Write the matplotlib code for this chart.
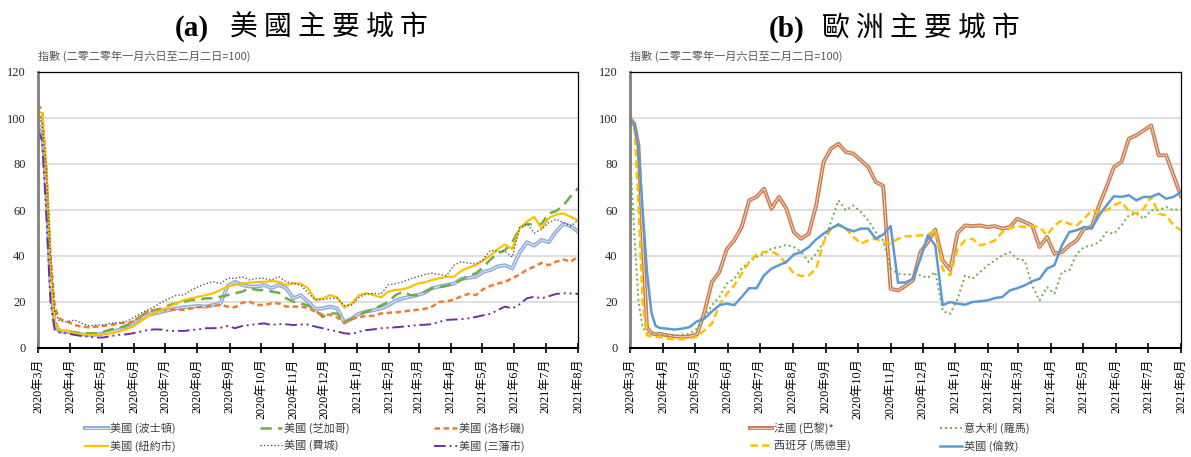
import matplotlib
matplotlib.use("Agg")
import matplotlib.pyplot as plt
import matplotlib.patheffects as pe
import pandas as pd

# day offsets from 2020-03-01 (dense in March, then weekly)
days = [0, 4, 8, 12, 16, 20, 24, 28,
        35, 42, 49, 56, 63, 70, 77, 84, 91, 98, 105, 112, 119, 126, 133, 140, 147,
        154, 161, 168, 175, 182, 189, 196, 203, 210, 217, 224, 231, 238, 245, 252,
        259, 266, 273, 280, 287, 294, 301, 308, 315, 322, 329, 336, 343, 350, 357,
        364, 371, 378, 385, 392, 399, 406, 413, 420, 427, 434, 441, 448, 455, 462,
        469, 476, 483, 490, 497, 504, 511, 518]

# (a) US cities
boston = [97, 95, 68, 28, 10, 7.5, 7, 7.1,
          6.4, 5.9, 5.7, 5.8, 6.4, 7.1, 7.8, 9.3, 10.7, 12.9, 14.3, 15, 15.8, 16.5, 17.2, 17.7, 18,
          18.3, 18, 18.7, 19.4, 27, 28.8, 27.4, 26.7, 26.7, 27.4, 26, 27.4, 26, 21.6, 23,
          20.1, 17, 17.2, 18, 17.2, 11, 12.9, 15, 15.8, 16.5, 17.2, 18.5, 20.5, 21.6, 22.3,
          23, 24, 26, 26.7, 27.4, 28, 30, 30.5, 31, 33, 33.9, 35.5, 36, 34.6, 41.5,
          46, 44.5, 47, 46, 50.6, 54, 53, 50.6]
chicago = [101, 100, 75, 34, 12, 8, 7.5, 7.5,
           6.8, 6.4, 6.4, 6.4, 7.1, 8.1, 8.6, 9.6, 11.4, 13.6, 15.8, 16.5, 17.2, 18.7, 19.4, 20.1, 20.9,
           20.9, 21.6, 21.6, 22.3, 23, 23.8, 24.5, 26, 25.2, 25.2, 24.5, 24, 21.6, 20.1, 19.4,
           18.5, 16.5, 13.5, 15, 15, 11.5, 12.5, 14.5, 15.8, 17, 18.5, 20, 23, 24.5, 23,
           23, 24.5, 26, 26.5, 27, 28, 29.6, 31.5, 32.5, 35, 38.5, 41, 42.6, 46, 52,
           54, 53.5, 54, 58.5, 59.5, 62, 66, 69.4]
los_angeles = [106, 103, 78, 40, 18, 13, 12, 11.5,
               10, 9.3, 9, 9.3, 9.6, 10, 10.7, 11, 11.4, 13.6, 15.8, 16.5, 16.5, 16.5, 16.8, 16.5, 17.2,
               17.7, 18, 18.3, 18.7, 18, 17.7, 19.7, 20.1, 18.7, 18.7, 19.4, 19.4, 18, 18, 18,
               17.5, 15.8, 14.5, 14.5, 13.3, 11.2, 12.5, 13.5, 13.9, 14, 15, 15.3, 15.5, 15.8, 16.3,
               16.6, 17, 18, 20, 20.3, 21, 22.5, 23.5, 23, 25.5, 27, 28, 28.8, 30.3, 32,
               34, 35.4, 37, 36, 37.5, 38.5, 37.5, 39.7]
new_york = [103, 102, 78, 36, 11, 8, 7.5, 7.6,
            6.4, 5.9, 5.7, 5.7, 5.9, 6.4, 7.1, 8.1, 9.3, 11.4, 13.6, 15.4, 16.5, 18, 19.4, 20.9, 21.6,
            22.3, 23, 23.8, 25.2, 26.7, 27.4, 28.1, 28.4, 28.6, 28.8, 29.1, 28.8, 27.4, 28.1, 28,
            26, 21, 21.5, 23, 22, 17.5, 19.4, 23, 23.8, 23, 22, 24.5, 25.2, 25.5, 26.5,
            28, 28.5, 29.6, 30.3, 31, 31, 33.5, 35, 36, 38, 40.2, 43, 45, 43, 52,
            55, 57, 52, 56.5, 58, 58.5, 57, 55.5]
philadelphia = [100, 98, 78, 40, 16, 12, 11.5, 11.4,
                12.2, 10.7, 9.6, 10, 10, 10.7, 11, 11.4, 12.9, 15, 16.5, 18, 20, 21.6, 23, 23, 25.2,
                26.7, 28, 28.8, 28, 30.3, 30.3, 31, 29.6, 30.3, 30.3, 29.6, 31, 28.8, 28.1, 27.4,
                24, 20.9, 21, 21.6, 21.6, 18.5, 18.7, 22, 23.5, 23.8, 23.5, 27.4, 28, 28.8, 30,
                31, 32, 32.5, 32, 31.5, 36, 37.5, 37, 36.5, 38.5, 42.5, 42, 42, 39.5, 52.5,
                54, 50, 51.5, 54.5, 56, 54.5, 53, 55.5]
san_francisco = [95, 90, 58, 20, 8, 6.8, 6.5, 6.4,
                 5.7, 5.2, 4.9, 4.5, 4.6, 5.2, 5.7, 5.9, 6.4, 7.1, 7.8, 8.1, 8, 7.4, 7.5, 7.4, 7.8,
                 8.1, 8.6, 8.6, 8.8, 9.6, 8.6, 9.6, 10, 10.4, 10.7, 10, 10.4, 10.3, 10, 10.2,
                 10.2, 9.3, 8.6, 7.8, 7.2, 6.4, 6.1, 7.1, 7.8, 8.1, 8.6, 8.8, 9, 9.3, 9.6,
                 10, 10.1, 10.4, 11.4, 12.2, 12.4, 12.5, 12.9, 13.5, 14.2, 14.8, 16.5, 18, 17.2, 19,
                 21.6, 22.3, 21.6, 22.5, 23.5, 23.8, 23.7, 23.5]

# (b) European cities
paris = [98, 97.5, 88, 45, 9, 6.5, 6, 6.2,
         5.5, 5.1, 4.8, 5.1, 5.9, 15.6, 28.7, 33, 43, 46.8, 52.6, 64.2, 65.7, 69.3, 60.6, 65.7, 60.6,
         50.4, 47.5, 49.7, 62, 80.9, 86.7, 88.8, 85.2, 84.5, 81.6, 78.7, 72.2, 70.5, 25.8, 25,
         27, 29.4, 41.7, 46, 51.5, 38, 34, 50, 53.3, 53, 53.3, 52.6, 53, 51.9, 52.6,
         56.2, 54.8, 53.3, 43.9, 48.3, 41, 41.7, 44.6, 46.8, 51.9, 52.6, 62, 70, 78.7, 80.9,
         91, 92.5, 94.6, 96.8, 83.8, 83.8, 75, 66]
rome = [85, 50, 20, 9, 6.5, 6, 5.8, 5.5,
        5.5, 5.5, 5.8, 6.2, 8.4, 13.5, 18.6, 22.2, 28, 30.1, 34.5, 37.4, 39.6, 41, 43.2, 43.9, 44.9,
        43.9, 41.7, 37.4, 41, 46, 54.8, 64.2, 59.9, 62, 59.1, 55.5, 50.4, 46.8, 34.5, 32.3,
        32, 31.9, 31.6, 30.5, 33, 16, 14.9, 21.4, 31.6, 30.1, 33, 35.9, 38.1, 40.3, 41.7,
        38.8, 38, 27.2, 20.7, 26.5, 23.6, 33, 33.8, 41, 43.9, 44.6, 46, 50.4, 49.7, 53.3,
        57.7, 58.4, 56.2, 59.9, 59.9, 61.3, 59.9, 60.6]
madrid = [101, 98, 62, 18.5, 5.5, 5, 4.8, 4.8,
          4.1, 3.8, 3.8, 4.3, 4.8, 7.7, 10.6, 18.6, 23.6, 27.2, 32.3, 37.4, 40.6, 41.7, 42, 40.3, 36.7,
          32.3, 31.3, 31.6, 34.5, 46, 51.9, 53.3, 51.9, 48.3, 45.4, 46.8, 47.5, 46, 45.4, 47.5,
          48.5, 48.7, 49, 49, 51.5, 34, 31.6, 43.2, 46.8, 47.5, 44.6, 45.4, 46.8, 50.4, 51.9,
          53, 52.6, 53, 52.6, 49, 53.3, 55.5, 54, 53.3, 56.2, 59.9, 59.1, 59.9, 62, 63.5,
          59.5, 58.4, 60.6, 65.7, 58.4, 57.7, 53.3, 51.2]
london = [100, 97.5, 86.7, 59, 33, 15.7, 9.6, 8.7,
          8.4, 8, 8.4, 9.1, 11.6, 12.8, 15.9, 18.6, 19.3, 18.6, 22.2, 26, 26, 31.6, 34.5, 36, 37.4,
          40.6, 41.7, 43.9, 47.2, 49.7, 51.9, 53.8, 51.9, 50.7, 51.9, 51.9, 47.5, 49.3, 53, 28.4,
          28.5, 30.1, 38.8, 49, 44.6, 18.6, 20, 19.3, 18.8, 20, 20.3, 20.7, 21.7, 22.2, 25,
          26, 27.2, 29, 30.1, 34.5, 36, 44.6, 50.4, 51.2, 52.6, 51.9, 57.7, 62, 66, 65.7,
          66.4, 64.2, 65.7, 65.7, 67.1, 64.9, 65.7, 67.8]

month_labels = ['2020年3月', '2020年4月', '2020年5月', '2020年6月', '2020年7月', '2020年8月',
                '2020年9月', '2020年10月', '2020年11月', '2020年12月', '2021年1月', '2021年2月',
                '2021年3月', '2021年4月', '2021年5月', '2021年6月', '2021年7月', '2021年8月']

start = pd.Timestamp('2020-03-01')
dates = start + pd.to_timedelta(days, unit='D')
month_ticks = pd.date_range('2020-03-01', '2021-08-01', freq='MS')

CJK = 'Noto Sans CJK TC'
SERIF_CJK = ['Liberation Serif', CJK]
plt.rcParams['font.family'] = [CJK, 'DejaVu Sans']

fig = plt.figure(figsize=(11.91, 4.57), dpi=100)
W, H = 1191, 457


def double_line(ax, y, outer, inner, label):
    ax.plot(dates, y, color=inner, lw=0.7, label=label,
            path_effects=[pe.Stroke(linewidth=2.8, foreground=outer), pe.Normal()])


def style_axes(ax):
    ax.set_xlim(month_ticks[0], month_ticks[-1])
    ax.set_ylim(0, 120)
    ax.set_yticks(range(0, 121, 20))
    ax.grid(axis='y', color='#D9D9D9', lw=1.2)
    ax.set_axisbelow(True)
    ax.set_xticks(month_ticks)
    ax.set_xticklabels(month_labels, rotation=90, fontsize=8.7, family=SERIF_CJK)
    ax.tick_params(axis='x', direction='inout', length=7, width=1.2, pad=4)
    ax.tick_params(axis='y', length=0, pad=9, labelsize=9, labelcolor='#262626')
    for lab in ax.get_yticklabels():
        lab.set_family('Liberation Serif')
    ax.spines['left'].set_color('#808080')
    ax.spines['left'].set_linewidth(2)
    ax.spines['bottom'].set_linewidth(1.5)
    ax.spines['top'].set_linewidth(0.9)
    ax.spines['right'].set_linewidth(0.9)
    ax.text(0, 1.035, '指數 (二零二零年一月六日至二月二日=100)', transform=ax.transAxes,
            fontsize=8, color='#595959', ha='left', va='bottom')


ax1 = fig.add_axes([38 / W, 1 - 348 / H, 540 / W, 276 / H])
double_line(ax1, boston, '#8FAADC', '#E4ECF8', '美國 (波士頓)')
ax1.plot(dates, chicago, color='#70AD47', lw=1.8, dashes=(4.5, 2.5), label='美國 (芝加哥)')
ax1.plot(dates, los_angeles, color='#ED7D31', lw=1.8, dashes=(2.2, 1.4), label='美國 (洛杉磯)')
ax1.plot(dates, new_york, color='#FFC000', lw=1.6, label='美國 (紐約市)')
ax1.plot(dates, philadelphia, color='#595959', lw=1.0, dashes=(1, 1.5), label='美國 (費城)')
ax1.plot(dates, san_francisco, color='#7030A0', lw=1.4, dashes=(6, 2, 1, 2, 1, 2), label='美國 (三藩市)')
style_axes(ax1)

ax2 = fig.add_axes([630 / W, 1 - 348 / H, 551 / W, 276 / H])
double_line(ax2, paris, '#CB7B4E', '#F6D5C2', '法國 (巴黎)*')
ax2.plot(dates, rome, color='#70AD47', lw=1.4, dashes=(1, 1.6), label='意大利 (羅馬)')
ax2.plot(dates, madrid, color='#FFC000', lw=1.8, dashes=(3, 1.6), label='西班牙 (馬德里)')
ax2.plot(dates, london, color='#5B9BD5', lw=1.8, label='英國 (倫敦)')
style_axes(ax2)

# legends below each panel (matplotlib fills column by column)
h, l = ax1.get_legend_handles_labels()
order = [0, 3, 1, 4, 2, 5]
fig.legend([h[i] for i in order], [l[i] for i in order], ncol=3, loc='center',
           bbox_to_anchor=(305 / W, 1 - 437 / H), frameon=False, fontsize=8,
           handlelength=2.0, handletextpad=0.2, columnspacing=7.6, labelspacing=0.55,
           labelcolor='#404040')
h, l = ax2.get_legend_handles_labels()
order = [0, 2, 1, 3]
fig.legend([h[i] for i in order], [l[i] for i in order], ncol=2, loc='center',
           bbox_to_anchor=(890 / W, 1 - 437 / H), frameon=False, fontsize=8,
           handlelength=2.0, handletextpad=0.2, columnspacing=8.0, labelspacing=0.55,
           labelcolor='#404040')

# panel titles
for x_lab, x_cn, lab, cn in [(209, 230, '(a)', '美 國 主 要 城 市'),
                             (805, 822, '(b)', '歐 洲 主 要 城 市')]:
    fig.text(x_lab / W, 1 - 29 / H, lab, ha='right', va='center', fontsize=21,
             family='Liberation Serif', weight='bold')
    fig.text(x_cn / W, 1 - 28 / H, cn, ha='left', va='center', fontsize=20,
             family=[CJK, 'DejaVu Sans'], weight='medium')

fig.savefig('out.png', dpi=100)
